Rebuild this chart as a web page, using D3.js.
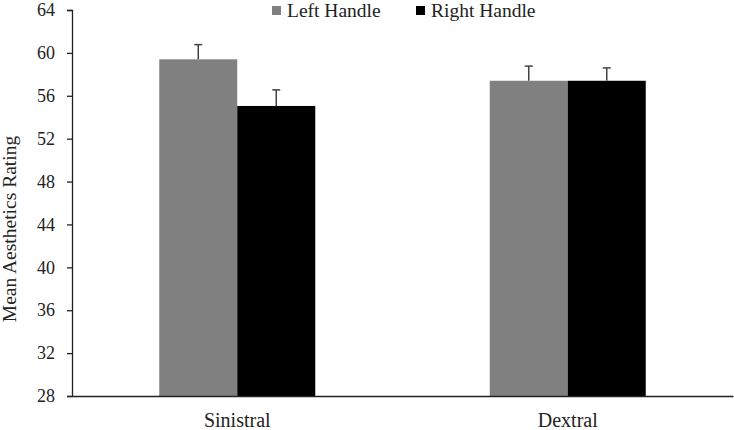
<!DOCTYPE html>
<html>
<head>
<meta charset="utf-8">
<script src="https://cdn.jsdelivr.net/npm/d3@7"></script>
<style>
  body { margin: 0; background: #fff; }
  text { font-family: "Liberation Serif", "Times New Roman", serif; fill: #222; }
</style>
</head>
<body>
<svg width="734" height="430"></svg>
<script>
const categories = ['Sinistral', 'Dextral']
const seriesNames = ['Left Handle', 'Right Handle']
const seriesColors = ['#808080', '#000000']
const leftValues = [59.4, 57.4]
const rightValues = [55.05, 57.4]
const leftErrors = [1.37, 1.37]
const rightErrors = [1.5, 1.2]
const yTicks = [28, 32, 36, 40, 44, 48, 52, 56, 60, 64]

const svg = d3.select('svg')
const margin = { top: 10, right: 1, bottom: 34, left: 72 },
      width = +svg.attr('width') - margin.left - margin.right,
      height = +svg.attr('height') - margin.top - margin.bottom

const chart = svg.append('g')
    .attr('transform', `translate(${margin.left},${margin.top})`)

const x = d3.scaleBand().domain(categories).range([0, width])
const y = d3.scaleLinear().domain([28, 64]).range([height, 0])
const barW = 78

const series = [
  { name: seriesNames[0], color: seriesColors[0], values: leftValues, errors: leftErrors },
  { name: seriesNames[1], color: seriesColors[1], values: rightValues, errors: rightErrors }
]

series.forEach((s, si) => {
  const g = chart.append('g')
  const xPos = (c) => x(c) + x.bandwidth() / 2 - barW + si * barW
  g.selectAll('rect')
    .data(categories)
    .join('rect')
    .attr('x', c => xPos(c))
    .attr('width', barW)
    .attr('y', (c, i) => y(s.values[i]))
    .attr('height', (c, i) => height - y(s.values[i]))
    .attr('fill', s.color)

  // error bars, upward only
  categories.forEach((c, i) => {
    const cx = xPos(c) + barW / 2
    const top = y(s.values[i] + s.errors[i])
    g.append('line')
      .attr('x1', cx).attr('x2', cx)
      .attr('y1', y(s.values[i])).attr('y2', top)
      .attr('stroke', '#444').attr('stroke-width', 1.5)
    g.append('line')
      .attr('x1', cx - 4).attr('x2', cx + 4)
      .attr('y1', top).attr('y2', top)
      .attr('stroke', '#444').attr('stroke-width', 1.5)
  })
})

const yAxis = chart.append('g')
  .call(d3.axisLeft(y).tickValues(yTicks).tickSize(5).tickPadding(12))
yAxis.select('.domain').attr('stroke', '#222').attr('stroke-width', 1.3)
yAxis.selectAll('.tick line').attr('stroke', '#222').attr('stroke-width', 1.3)
yAxis.selectAll('.tick text').attr('font-size', 18).attr('fill', '#222')
  .style('font-family', '"Liberation Serif", serif')

const xAxis = chart.append('g')
  .attr('transform', `translate(0,${height})`)
  .call(d3.axisBottom(x).tickSize(0).tickPadding(17))
xAxis.select('.domain').attr('stroke', '#222').attr('stroke-width', 1.3)
xAxis.selectAll('.tick text').attr('font-size', 20).attr('fill', '#222')
  .style('font-family', '"Liberation Serif", serif')

svg.append('text')
  .attr('transform', 'translate(16,229) rotate(-90)')
  .attr('text-anchor', 'middle')
  .attr('font-size', 19.5)
  .text('Mean Aesthetics Rating')

// legend
const legendX = [272, 416]
series.forEach((s, i) => {
  svg.append('rect')
    .attr('x', legendX[i]).attr('y', 6)
    .attr('width', 9).attr('height', 9)
    .attr('fill', s.color)
  svg.append('text')
    .attr('x', legendX[i] + 15).attr('y', 17)
    .attr('font-size', 19.5)
    .text(s.name)
})
</script>
</body>
</html>
